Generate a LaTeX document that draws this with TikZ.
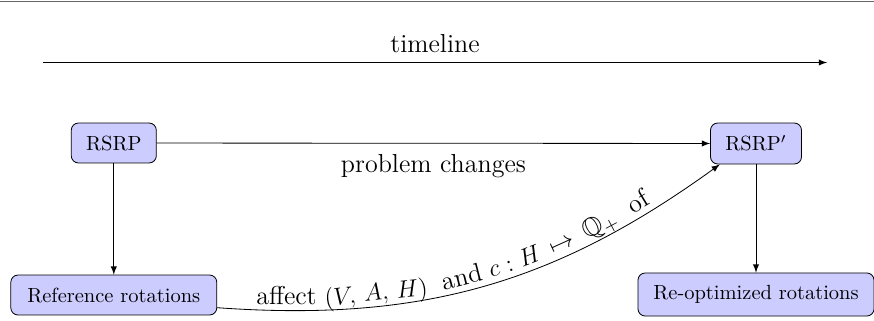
\documentclass[tikz,border=0pt]{standalone}
\usepackage{amssymb}
\newcommand\lblfont{\fontsize{12.7}{15}\selectfont}
\begin{document}
\begin{tikzpicture}[x=0.488pt,y=-0.488pt,
  box/.style={draw, rounded corners=3.5pt, fill=blue!20, inner sep=0pt, minimum height=19.5pt},
  conn/.style={-latex},
  onc/.style={sloped, above=2.7pt, text depth=0pt, inner sep=0pt, font=\lblfont}]
\useasboundingbox (0,0) rectangle (874,320);
\draw[gray!80!black, line width=0.7pt] (0,1.5) -- (874,1.5);
\coordinate (tl0) at (43,62.5);
\coordinate (tl1) at (827,62.5);
\draw[conn] (tl0) -- node[midway, above=1.3pt, font=\lblfont] (tll) {timeline} (tl1);
\node[box, minimum width=41.5pt] (rsrp) at (113.8,143) {RSRP};
\node[box, minimum width=44.4pt, minimum height=20pt] (rsrp2) at (756,143.5) {RSRP$'$};
\node[box, minimum width=100.5pt] (ref) at (113.8,295) {Reference rotations};
\node[box, minimum width=115.2pt, minimum height=21pt] (reopt) at (756,294.5) {Re-optimized rotations};
\draw[conn] (rsrp) -- node[midway, below=2pt, font=\lblfont] (pc) {problem changes} (rsrp2);
\draw[conn] (rsrp) -- (ref);
\draw[conn] (rsrp2) -- (reopt);
\draw[conn] (ref.-7) to[bend right=20]
  node[onc, pos=0.118] (w1) {affect}
  node[onc, pos=0.287] (w2) {$(V,\,A,\,H)$}
  node[onc, pos=0.463] (w3) {and}
  node[onc, pos=0.532] (w4) {$c$}
  node[onc, pos=0.565] (w5) {$:$}
  node[onc, pos=0.610] (w6) {$H$}
  node[onc, pos=0.680] (w7) {$\mapsto$}
  node[onc, pos=0.763] (w8) {$\mathbb{Q}_+$}
  node[onc, pos=0.846] (w9) {of}
  (rsrp2.-150);
\end{tikzpicture}
\end{document}
